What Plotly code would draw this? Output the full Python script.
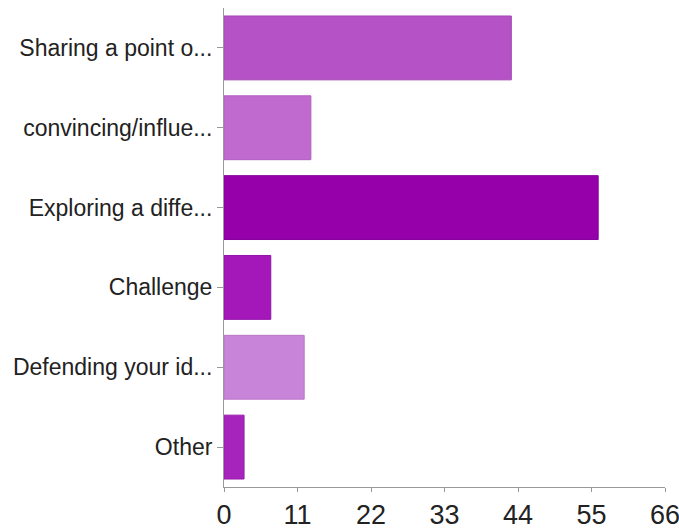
import plotly.graph_objects as go

categories = ["Sharing a point o...", "convincing/influe...", "Exploring a diffe...",
              "Challenge", "Defending your id...", "Other"]
values = [43, 13, 56, 7, 12, 3]
colors = ["#b452c6", "#c06ad0", "#9500aa", "#a418ba", "#c884d8", "#a624bc"]
border_colors = ["#a446b4", "#b05cbe", "#86009a", "#9312a8", "#b876c6", "#961ca8"]
x_ticks = [0, 11, 22, 33, 44, 55, 66]

FONT = "Liberation Sans, Arial, sans-serif"

fig = go.Figure(go.Bar(
    x=values, y=categories, orientation="h",
    marker=dict(color=colors, line=dict(color=border_colors, width=1)),
))

fig.update_layout(
    width=679, height=531,
    margin=dict(l=224, r=14, t=8, b=44),
    paper_bgcolor="white", plot_bgcolor="white",
    bargap=0.2,
    showlegend=False,
    font=dict(family=FONT, color="#222222"),
)
fig.update_yaxes(
    autorange="reversed", type="category", automargin=False,
    showline=True, linecolor="#999999", linewidth=1,
    ticks="outside", ticklen=6, tickcolor="#999999",
    tickfont=dict(size=23, family=FONT, color="#222222"),
    showgrid=False,
)
fig.update_xaxes(
    range=[0, 66], tickvals=x_ticks, ticktext=[str(t) for t in x_ticks],
    automargin=False, ticklabeloverflow="allow",
    showline=True, linecolor="#999999", linewidth=1,
    ticks="outside", ticklen=4, tickcolor="#999999",
    tickfont=dict(size=27, family=FONT, color="#222222"),
    showgrid=False, zeroline=False,
)

fig.write_html(
    "out.html",
    config={"displayModeBar": False},
    post_script="document.body.style.margin='0';document.body.style.overflow='hidden';",
)
